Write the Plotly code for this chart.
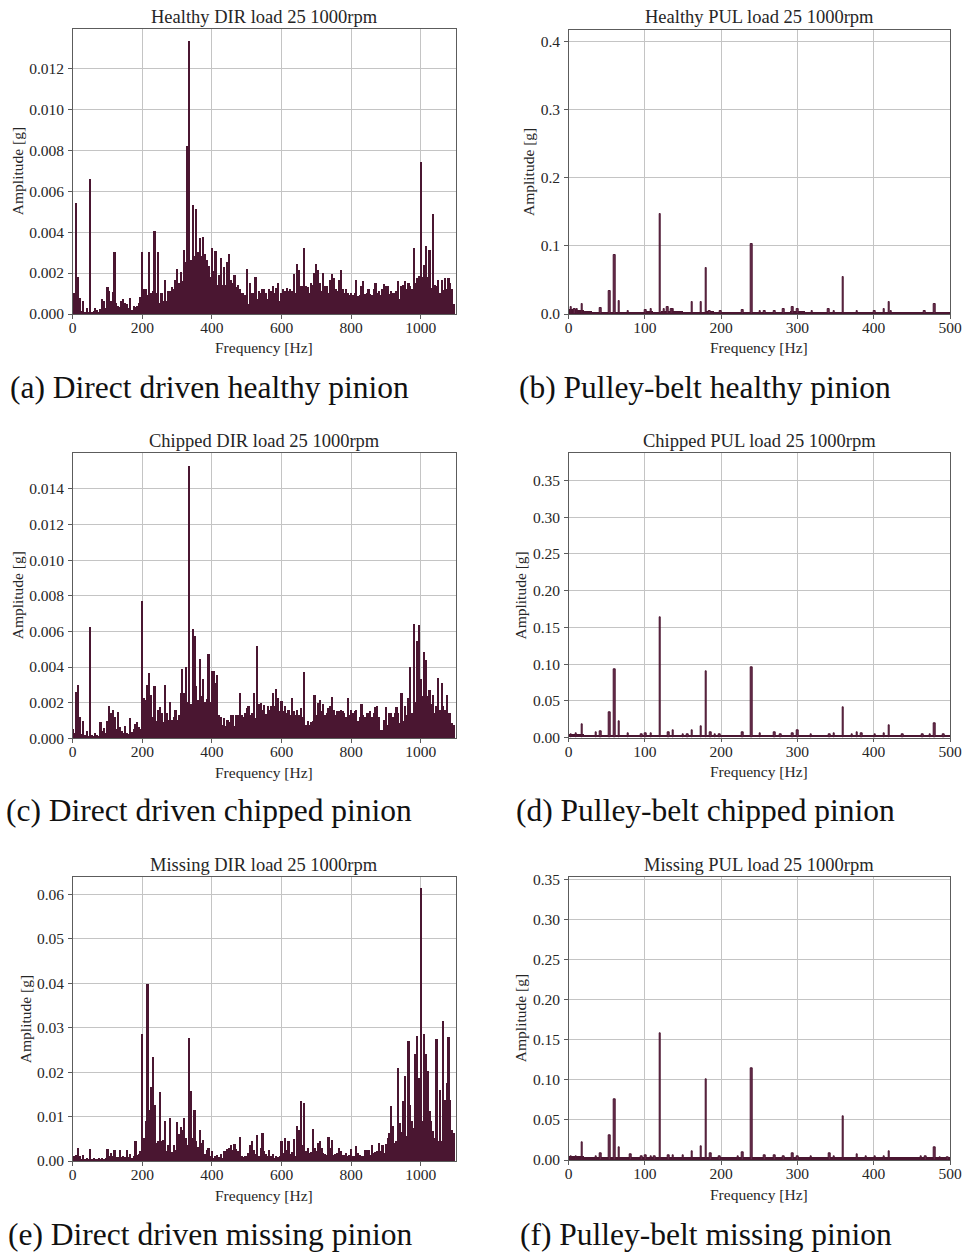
import plotly.graph_objects as go

# ---------------- DATA ----------------
# Direct-driven spectra: amplitude in milli-g on a 5 Hz grid (0 ... 1095 Hz)
dir_freq = list(range(0, 1100, 5))

healthy_dir_mg = [
    0.3, 1.0, 5.4, 1.8, 0.77, 0.15, 0.64, 0.1, 0.3, 0.1,
    6.6, 0.1, 0.15, 0.3, 0.2, 0.1, 0.25, 0.7, 0.6, 0.3,
    1.3, 1.1, 0.6, 1.05, 3.0, 0.5, 0.4, 0.35, 0.6, 0.7,
    0.5, 0.45, 0.3, 0.75, 0.2, 0.4, 0.35, 0.4, 0.5, 0.8,
    3.0, 1.2, 1.2, 0.9, 3.0, 1.0, 1.1, 4.05, 1.0, 3.0,
    0.5, 1.0, 0.6, 1.65, 0.6, 1.1, 1.1, 1.3, 1.2, 1.65,
    2.2, 1.5, 2.05, 1.6, 3.1, 2.5, 8.2, 13.3, 2.6, 5.3,
    2.8, 5.1, 3.0, 3.7, 2.8, 3.75, 2.9, 2.6, 2.35, 1.8,
    3.2, 2.1, 3.05, 1.4, 1.9, 2.7, 1.4, 2.3, 1.4, 2.5,
    2.9, 1.65, 1.5, 1.9, 1.3, 1.4, 1.2, 1.0, 1.0, 0.9,
    2.2, 0.45, 1.5, 1.0, 1.0, 1.8, 0.7, 1.1, 1.0, 1.2,
    1.2, 1.0, 0.7, 1.2, 1.1, 1.35, 1.0, 1.25, 1.5, 0.6,
    1.0, 1.2, 1.1, 1.25, 1.1, 1.2, 1.1, 1.95, 1.0, 2.45,
    2.15, 1.35, 1.35, 3.2, 1.35, 1.3, 1.0, 1.5, 1.4, 2.0,
    2.45, 2.15, 1.5, 1.1, 2.0, 1.35, 1.35, 1.0, 1.65, 1.95,
    1.75, 1.2, 1.1, 1.65, 2.15, 1.2, 1.0, 1.2, 1.0, 0.9,
    1.0, 0.9, 1.0, 1.65, 0.85, 0.9, 1.35, 1.6, 0.95, 1.0,
    1.2, 0.95, 0.9, 1.2, 1.5, 1.0, 1.1, 0.9, 1.2, 1.45,
    1.35, 1.35, 0.95, 1.1, 1.0, 1.0, 1.1, 1.6, 0.7, 1.35,
    1.4, 1.6, 1.2, 1.5, 1.35, 1.2, 3.2, 1.5, 1.75, 1.85,
    7.4, 1.8, 2.4, 3.3, 1.8, 3.1, 1.25, 4.85, 1.4, 1.35,
    1.65, 1.0, 1.65, 1.15, 1.75, 1.2, 1.75, 1.5, 1.2, 0.45,
]

chipped_dir_mg = [
    0.5, 0.3, 2.6, 3.0, 1.2, 0.2, 0.95, 0.15, 0.4, 0.1,
    6.25, 0.15, 0.1, 0.3, 0.15, 0.1, 0.9, 0.4, 0.55, 0.3,
    0.95, 1.8, 1.4, 1.6, 1.2, 0.5, 1.45, 0.6, 0.4, 0.3,
    0.7, 0.3, 0.2, 1.1, 0.35, 0.5, 0.8, 0.9, 0.6, 0.5,
    7.7, 2.25, 2.15, 3.0, 3.65, 2.4, 1.2, 2.9, 0.95, 1.6,
    1.75, 1.4, 0.9, 2.95, 1.4, 1.0, 2.0, 1.0, 1.2, 1.6,
    1.0, 1.3, 2.5, 3.9, 2.5, 4.0, 2.0, 15.25, 1.9, 6.1,
    5.75, 2.9, 2.15, 4.45, 2.35, 3.3, 2.0, 2.2, 4.7, 2.0,
    3.75, 3.75, 3.1, 3.55, 1.3, 1.2, 0.75, 1.1, 0.65, 1.0,
    0.9, 1.3, 1.3, 0.65, 1.3, 1.3, 2.5, 1.3, 1.2, 1.4,
    1.7, 1.8, 1.3, 1.4, 2.55, 1.1, 5.15, 1.9, 1.95, 1.6,
    1.85, 1.35, 1.8, 1.6, 1.8, 2.55, 1.8, 2.75, 2.25, 1.5,
    2.1, 1.5, 1.8, 1.4, 1.6, 1.3, 2.25, 1.5, 1.3, 1.6,
    1.3, 1.7, 1.2, 3.7, 0.75, 0.95, 0.75, 0.9, 0.95, 2.4,
    1.3, 1.95, 2.15, 1.5, 1.9, 1.3, 1.4, 1.7, 1.8, 2.3,
    1.6, 1.3, 1.5, 1.5, 1.6, 1.5, 1.4, 1.2, 2.25, 1.3,
    1.6, 1.4, 1.5, 1.6, 0.95, 1.2, 1.9, 1.3, 1.2, 1.4,
    1.4, 1.5, 1.2, 1.4, 1.75, 1.8, 1.2, 0.45, 0.45, 1.0,
    1.75, 0.75, 1.4, 1.4, 1.2, 1.4, 1.75, 1.4, 0.85, 2.55,
    0.95, 1.8, 1.3, 2.25, 4.0, 1.4, 6.4, 2.0, 5.45, 6.35,
    3.3, 2.35, 4.85, 4.4, 2.35, 2.7, 1.9, 2.4, 1.4, 1.8,
    3.35, 1.6, 3.1, 1.8, 1.6, 2.4, 1.4, 1.4, 0.85, 0.75,
]

missing_dir_mg = [
    0.5, 1.0, 1.2, 2.85, 1.0, 0.4, 1.35, 0.3, 0.6, 0.4,
    2.6, 0.3, 0.5, 0.3, 0.4, 0.6, 0.4, 0.6, 0.4, 0.5,
    2.6, 1.0, 1.7, 1.0, 2.4, 0.8, 0.9, 2.3, 0.9, 1.0,
    0.9, 2.3, 0.8, 1.5, 0.7, 1.0, 4.5, 1.2, 1.5, 2.1,
    28.5, 5.1, 8.9, 39.8, 11.5, 16.6, 23.3, 12.6, 4.0, 4.5,
    15.5, 4.5, 4.7, 8.9, 2.1, 3.5, 9.5, 2.0, 3.6, 2.5,
    8.7, 5.9, 7.5, 7.0, 9.6, 5.1, 3.5, 27.5, 15.6, 5.1,
    11.5, 4.4, 3.0, 6.8, 4.0, 4.7, 1.5, 2.5, 2.85, 1.0,
    2.1, 0.6, 1.0, 1.35, 0.8, 1.5, 0.6, 2.1, 2.1, 2.7,
    2.85, 3.6, 2.5, 3.8, 2.7, 2.2, 5.4, 1.0, 0.8, 1.0,
    1.0, 1.7, 3.45, 4.35, 2.5, 1.5, 5.85, 1.0, 2.85, 6.2,
    2.1, 1.4, 1.0, 2.5, 1.0, 1.4, 0.6, 1.0, 0.8, 1.0,
    4.35, 1.7, 5.1, 2.5, 4.35, 1.4, 2.0, 4.95, 1.0, 7.7,
    7.0, 13.5, 3.6, 12.9, 2.1, 2.85, 1.7, 2.0, 7.2, 2.85,
    2.1, 4.0, 4.35, 2.85, 1.7, 1.5, 1.35, 5.3, 2.85, 4.7,
    1.35, 1.5, 1.7, 2.85, 2.1, 1.35, 1.35, 1.7, 1.0, 1.2,
    2.7, 1.0, 1.0, 3.2, 1.7, 1.35, 1.0, 1.0, 2.5, 2.3,
    2.5, 1.35, 3.6, 1.7, 2.0, 2.1, 4.0, 2.1, 3.6, 1.7,
    3.8, 5.1, 6.2, 12.4, 7.7, 4.0, 4.35, 20.9, 8.5, 6.4,
    13.4, 19.1, 5.5, 26.9, 12.6, 8.9, 7.4, 23.9, 28.0, 18.6,
    61.3, 9.0, 28.4, 23.9, 20.1, 11.1, 8.9, 6.6, 5.1, 27.3,
    4.4, 16.0, 4.5, 31.5, 13.7, 17.5, 27.9, 13.7, 7.0, 6.2,
]

# Pulley-belt spectra: low broadband floor on a 10 Hz grid (g) ...
pul_floor_freq = list(range(0, 500, 10))

healthy_pul_floor = [
    0.007, 0.006, 0.004, 0.003, 0.003, 0.003, 0.003, 0.003, 0.003, 0.003,
    0.004, 0.003, 0.004, 0.005, 0.004, 0.003, 0.003, 0.003, 0.004, 0.003,
    0.003, 0.003, 0.003, 0.003, 0.003, 0.003, 0.003, 0.003, 0.003, 0.004,
    0.004, 0.003, 0.002, 0.002, 0.003, 0.003, 0.002, 0.002, 0.002, 0.002,
    0.003, 0.003, 0.003, 0.002, 0.002, 0.002, 0.002, 0.002, 0.002, 0.002,
]
chipped_pul_floor = [
    0.004, 0.004, 0.003, 0.003, 0.003, 0.003, 0.003, 0.003, 0.003, 0.003,
    0.003, 0.003, 0.003, 0.003, 0.003, 0.003, 0.003, 0.003, 0.003, 0.003,
    0.003, 0.003, 0.003, 0.003, 0.003, 0.003, 0.003, 0.003, 0.003, 0.003,
    0.003, 0.003, 0.003, 0.003, 0.003, 0.003, 0.003, 0.003, 0.003, 0.003,
    0.003, 0.003, 0.003, 0.003, 0.003, 0.003, 0.003, 0.003, 0.003, 0.003,
]
missing_pul_floor = [
    0.004, 0.005, 0.003, 0.003, 0.003, 0.003, 0.003, 0.003, 0.003, 0.003,
    0.003, 0.003, 0.003, 0.003, 0.003, 0.003, 0.003, 0.003, 0.003, 0.003,
    0.003, 0.003, 0.003, 0.003, 0.003, 0.003, 0.003, 0.003, 0.003, 0.003,
    0.003, 0.003, 0.003, 0.003, 0.003, 0.003, 0.003, 0.003, 0.003, 0.003,
    0.003, 0.003, 0.003, 0.003, 0.003, 0.003, 0.003, 0.003, 0.003, 0.003,
]

# ... plus discrete spectral lines (Hz, g)
healthy_pul_peak_f = [3, 8, 11, 18, 42, 54, 60, 66, 78, 101, 108, 120, 125, 130, 135, 137,
                      162, 174, 180, 185, 199, 228, 240, 251, 257, 270, 282, 294, 300,
                      319, 341, 348, 360, 378, 401, 414, 420, 423, 467, 480]
healthy_pul_peak_a = [0.011, 0.008, 0.008, 0.014, 0.009, 0.034, 0.087, 0.019, 0.004, 0.006,
                      0.007, 0.147, 0.007, 0.010, 0.008, 0.007, 0.017, 0.017, 0.067, 0.005,
                      0.004, 0.006, 0.103, 0.005, 0.005, 0.005, 0.007, 0.011, 0.007,
                      0.004, 0.007, 0.005, 0.054, 0.005, 0.004, 0.007, 0.018, 0.005,
                      0.004, 0.015]

chipped_pul_peak_f = [3, 10, 18, 36, 42, 54, 60, 66, 78, 96, 101, 108, 120, 131, 137, 150,
                      156, 162, 174, 180, 186, 192, 198, 228, 240, 251, 270, 278, 294,
                      300, 318, 342, 348, 360, 372, 378, 384, 402, 414, 420, 438, 464,
                      474, 480, 492]
chipped_pul_peak_a = [0.004, 0.006, 0.018, 0.007, 0.0086, 0.0345, 0.093, 0.0227, 0.006,
                      0.005, 0.006, 0.006, 0.1636, 0.007, 0.0095, 0.005, 0.005, 0.0104,
                      0.016, 0.0898, 0.007, 0.005, 0.004, 0.0072, 0.0952, 0.006, 0.007,
                      0.004, 0.006, 0.0104, 0.005, 0.005, 0.0055, 0.0413, 0.004, 0.007,
                      0.006, 0.005, 0.006, 0.0172, 0.004, 0.004, 0.005, 0.020, 0.004]

missing_pul_peak_f = [3, 10, 18, 36, 42, 54, 60, 66, 81, 96, 101, 108, 113, 120, 131, 137,
                      150, 162, 174, 180, 186, 198, 222, 228, 240, 257, 270, 282, 294,
                      300, 318, 342, 348, 360, 378, 390, 402, 414, 420, 462, 468, 480,
                      487, 497]
missing_pul_peak_a = [0.004, 0.005, 0.0216, 0.005, 0.0083, 0.031, 0.0759, 0.0153, 0.007,
                      0.005, 0.006, 0.005, 0.004, 0.1575, 0.006, 0.0054, 0.006, 0.0104,
                      0.0166, 0.101, 0.008, 0.004, 0.005, 0.0095, 0.114, 0.0054, 0.006,
                      0.005, 0.0087, 0.005, 0.004, 0.0083, 0.005, 0.0551, 0.007, 0.004,
                      0.005, 0.005, 0.0112, 0.004, 0.004, 0.0162, 0.003, 0.003]

titles = ["Healthy DIR load 25 1000rpm", "Healthy PUL load 25 1000rpm",
          "Chipped DIR load 25 1000rpm", "Chipped PUL load 25 1000rpm",
          "Missing DIR load 25 1000rpm", "Missing PUL load 25 1000rpm"]
captions = ["(a) Direct driven healthy pinion", "(b) Pulley-belt healthy pinion",
            "(c) Direct driven chipped pinion", "(d) Pulley-belt chipped pinion",
            "(e) Direct driven missing pinion", "(f) Pulley-belt missing pinion"]

dir_xticks = [0, 200, 400, 600, 800, 1000]
pul_xticks = [0, 100, 200, 300, 400, 500]
yticks = [
    [0.000, 0.002, 0.004, 0.006, 0.008, 0.010, 0.012],
    [0.0, 0.1, 0.2, 0.3, 0.4],
    [0.000, 0.002, 0.004, 0.006, 0.008, 0.010, 0.012, 0.014],
    [0.00, 0.05, 0.10, 0.15, 0.20, 0.25, 0.30, 0.35],
    [0.00, 0.01, 0.02, 0.03, 0.04, 0.05, 0.06],
    [0.00, 0.05, 0.10, 0.15, 0.20, 0.25, 0.30, 0.35],
]
ytick_fmt = [".3f", ".1f", ".3f", ".2f", ".2f", ".2f"]
y_ranges = [[0, 0.0139], [0, 0.417], [0, 0.0160], [0, 0.387], [0, 0.0638], [0, 0.3525]]

# ---------------- LAYOUT / STYLE ----------------
W, H = 963, 1252
BAR = "#4a1631"
FONT = "Liberation Serif"
TXT = "#262626"

# panel boxes in pixels: (x0, x1, y0_top, y1_bottom)
boxes = [
    (72.7, 455.5, 29.3, 314.0), (568.7, 950.0, 30.0, 314.0),
    (72.7, 455.5, 453.3, 738.3), (568.7, 950.0, 453.3, 737.7),
    (72.7, 455.5, 877.3, 1161.0), (568.7, 950.0, 877.3, 1160.0),
]


def px(x):
    return x / W


def py(y):
    return 1 - y / H


fig = go.Figure()

dir_sets = [healthy_dir_mg, chipped_dir_mg, missing_dir_mg]
pul_sets = [(healthy_pul_floor, healthy_pul_peak_f, healthy_pul_peak_a),
            (chipped_pul_floor, chipped_pul_peak_f, chipped_pul_peak_a),
            (missing_pul_floor, missing_pul_peak_f, missing_pul_peak_a)]

for row in range(3):
    # direct driven (left)
    i = 2 * row
    ax = "" if i == 0 else str(i + 1)
    fig.add_trace(go.Bar(
        x=dir_freq, y=[v / 1000 for v in dir_sets[row]], width=5,
        marker=dict(color=BAR, line=dict(width=0)),
        xaxis="x" + ax, yaxis="y" + ax, showlegend=False))
    # pulley belt (right)
    j = 2 * row + 1
    ax = str(j + 1)
    floor, pf, pa = pul_sets[row]
    fig.add_trace(go.Bar(
        x=pul_floor_freq, y=floor, width=10, offset=0,
        marker=dict(color=BAR, line=dict(width=0)),
        xaxis="x" + ax, yaxis="y" + ax, showlegend=False))
    fig.add_trace(go.Bar(
        x=pf, y=pa, width=2.0,
        marker=dict(color="#6a3050", line=dict(width=1, color=BAR)),
        xaxis="x" + ax, yaxis="y" + ax, showlegend=False))

layout = dict(
    width=W, height=H, margin=dict(l=0, r=0, t=0, b=0, pad=0, autoexpand=False),
    paper_bgcolor="white", plot_bgcolor="white",
    barmode="overlay", bargap=0, showlegend=False,
    font=dict(family=FONT, color=TXT),
)

annotations = []
for k in range(6):
    x0, x1, yt, yb = boxes[k]
    ax = "" if k == 0 else str(k + 1)
    is_dir = (k % 2 == 0)
    common = dict(
        showgrid=True, gridcolor="#c4c4c4", gridwidth=1,
        showline=True, linecolor="#5c5c5c", linewidth=1, mirror=True,
        ticks="outside", ticklen=3.5, tickcolor="#5c5c5c",
        tickfont=dict(family=FONT, size=15.5, color=TXT),
        zeroline=False, fixedrange=True, automargin=False,
    )
    xaxis = dict(
        domain=[px(x0), px(x1)], anchor="y" + ax,
        range=[0, 1100] if is_dir else [0, 500],
        tickvals=dir_xticks if is_dir else pul_xticks,
        ticklabelstandoff=-4,
        **common,
    )
    yaxis = dict(
        domain=[py(yb), py(yt)], anchor="x" + ax,
        range=y_ranges[k], tickvals=yticks[k], tickformat=ytick_fmt[k],
        ticklabelstandoff=1,
        **common,
    )
    layout["xaxis" + ax] = xaxis
    layout["yaxis" + ax] = yaxis

    cx = (x0 + x1) / 2
    # title
    annotations.append(dict(text=titles[k], x=px(cx), y=py(yt - 12.5), xref="paper", yref="paper",
                            xanchor="center", yanchor="middle", showarrow=False,
                            font=dict(family=FONT, size=18.5, color=TXT)))
    # x label
    annotations.append(dict(text="Frequency [Hz]", x=px(cx), y=py(yb + 34), xref="paper", yref="paper",
                            xanchor="center", yanchor="middle", showarrow=False,
                            font=dict(family=FONT, size=15.5, color=TXT)))
    # y label
    ylx = [17.5, 528, 17.5, 520, 25, 520.5][k]
    annotations.append(dict(text="Amplitude [g]", x=px(ylx), y=py((yt + yb) / 2), xref="paper", yref="paper",
                            xanchor="center", yanchor="middle", showarrow=False, textangle=-90,
                            font=dict(family=FONT, size=15.5, color=TXT)))
    # caption
    capx = [209, 705, 209, 705, 209.5, 706][k]
    capy = [387, 387, 810, 810, 1234, 1234][k]
    annotations.append(dict(text=captions[k], x=px(capx), y=py(capy), xref="paper", yref="paper",
                            xanchor="center", yanchor="middle", showarrow=False,
                            font=dict(family=FONT, size=31.5, color="#111111")))

layout["annotations"] = annotations
fig.update_layout(**layout)
fig.write_html("out.html")
